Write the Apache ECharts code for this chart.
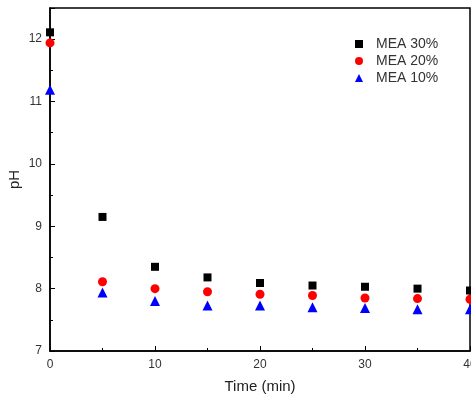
<!DOCTYPE html>
<html>
<head>
<meta charset="utf-8">
<script src="https://cdn.jsdelivr.net/npm/echarts@6/dist/echarts.min.js"></script>
<style>
  html, body { margin: 0; padding: 0; background: #fff; }
  #chart { width: 471px; height: 399px; }
</style>
</head>
<body>
<div id="chart"></div>
<script>
const times = [0, 5, 10, 15, 20, 25, 30, 35, 40]
const mea30 = [12.11, 9.15, 8.35, 8.18, 8.09, 8.05, 8.03, 8.00, 7.97]
const mea20 = [11.94, 8.11, 8.00, 7.95, 7.91, 7.89, 7.85, 7.84, 7.83]
const mea10 = [11.19, 7.94, 7.80, 7.73, 7.73, 7.70, 7.69, 7.67, 7.67]

const pairs = (ys) => times.map((t, i) => [t, ys[i]])

const chart = echarts.init(document.getElementById('chart'))

const axisText = { color: '#333', fontFamily: 'Liberation Sans', fontSize: 12 }

const option = {
  backgroundColor: '#fff',
  animation: false,
  grid: {
    left: 50,
    top: 8,
    right: 1,
    bottom: 48,
    outerBoundsMode: 'none',
    containLabel: false,
    show: true,
    borderColor: '#000',
    borderWidth: 1.5
  },
  legend: {
    left: 350,
    top: 32,
    orient: 'vertical',
    itemGap: 3,
    itemWidth: 8,
    itemHeight: 8,
    textStyle: { color: '#333', fontFamily: 'Liberation Sans', fontSize: 14, padding: [0, 0, 0, 8] },
    data: ['MEA 30%', 'MEA 20%', 'MEA 10%']
  },
  xAxis: {
    type: 'value',
    min: 0,
    max: 40,
    interval: 10,
    name: 'Time (min)',
    nameLocation: 'middle',
    nameGap: 28,
    nameMoveOverlap: false,
    nameTextStyle: { color: '#222', fontFamily: 'Liberation Sans', fontSize: 15 },
    axisLine: { lineStyle: { color: '#000', width: 1.5 } },
    axisTick: { inside: true, length: 5, lineStyle: { color: '#000' } },
    minorTick: { show: true, splitNumber: 2, length: 3, lineStyle: { color: '#000' } },
    axisLabel: axisText,
    splitLine: { show: false }
  },
  yAxis: {
    type: 'value',
    min: 7,
    max: 12.5,
    interval: 1,
    name: 'pH',
    nameLocation: 'middle',
    nameGap: 28,
    nameMoveOverlap: false,
    nameTextStyle: { color: '#222', fontFamily: 'Liberation Sans', fontSize: 15 },
    axisLine: { lineStyle: { color: '#000', width: 1.5 } },
    axisTick: { inside: true, length: 5, lineStyle: { color: '#000' } },
    minorTick: { show: true, splitNumber: 2, length: 3, lineStyle: { color: '#000' } },
    axisLabel: Object.assign({ showMaxLabel: false }, axisText),
    splitLine: { show: false }
  },
  series: [
    {
      name: 'MEA 30%',
      type: 'scatter',
      symbol: 'rect',
      symbolSize: 8,
      itemStyle: { color: '#000', opacity: 1 },
      data: pairs(mea30)
    },
    {
      name: 'MEA 20%',
      type: 'scatter',
      symbol: 'circle',
      symbolSize: 9,
      itemStyle: { color: '#ff0000', opacity: 1 },
      data: pairs(mea20)
    },
    {
      name: 'MEA 10%',
      type: 'scatter',
      symbol: 'triangle',
      symbolSize: 10,
      itemStyle: { color: '#0000ff', opacity: 1 },
      data: pairs(mea10)
    }
  ]
}

chart.setOption(option)
</script>
</body>
</html>
